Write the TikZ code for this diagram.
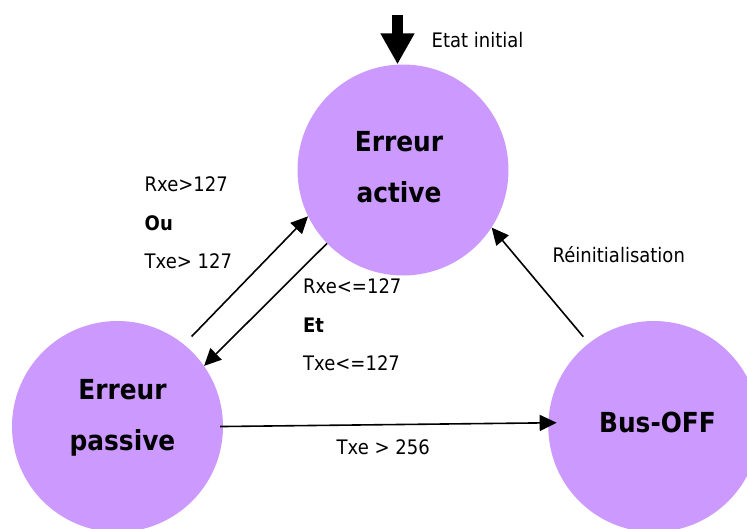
\documentclass[tikz,border=0pt]{standalone}
\usepackage{fontspec}
\usetikzlibrary{arrows.meta}
% Narrowed DejaVu Sans for all labels
\newfontfamily\diagfont[FakeStretch=0.9]{DejaVu Sans}
\definecolor{statefill}{HTML}{CC99FF}

\tikzset{
  state/.style={circle, fill=statefill, draw=none, minimum size=211pt, inner sep=0pt},
  statetext/.style={font=\diagfont\bfseries\fontsize{27.6}{51}\selectfont, align=center, anchor=base, inner sep=0pt},
  cond/.style={font=\diagfont\fontsize{20}{23}\selectfont, anchor=base west, inner sep=0pt},
  condbold/.style={cond, font=\diagfont\bfseries\fontsize{20}{23}\selectfont},
  trans/.style={line width=1.6pt, -{Triangle[length=17pt, width=16pt]}},
  initarrow/.style={line width=11pt, -{Triangle[length=31pt, width=32pt]}}
}

\begin{document}
\begin{tikzpicture}[x=1pt, y=-1pt]
  \clip (0,0) rectangle (747,528);

  % states
  \node[state] (active)  at (403,170)   {};
  \node[state] (passive) at (117.5,426.5) {};
  \node[state] (busoff)  at (653.8,426.5) {};

  % state names (anchored on the baseline of the last line)
  \node[statetext] (activetxt)  at (399,202) {Erreur\\active};
  \node[statetext] (passivetxt) at (122.5,450) {Erreur\\passive};
  \node[statetext] (busofftxt)  at (657.5,432) {Bus-OFF};

  % initial state marker
  \coordinate (init) at (397.5,15);
  \draw[initarrow] (init) -- (init |- active.north);
  \node[cond] (initlbl) at (431.5,47) {Etat initial};

  % transitions
  \draw[trans, shorten <=11pt] (passive.51.6) -- (active.206.3);
  \draw[trans] (active.224.6) -- (passive.35.1);
  \draw[trans, shorten <=8.5pt] (busoff.128.3) -- (active.-33.2);
  \draw[trans, shorten <=-3pt, shorten >=-8.5pt] (passive.0) -- (busoff.178.5);

  % transition conditions
  \node[cond]     (c1a) at (144.5,191) {Rxe>127};
  \node[condbold] (c1b) at (144.5,230) {Ou};
  \node[cond]     (c1c) at (144.5,268) {Txe> 127};

  \node[cond]     (c2a) at (303,293) {Rxe<=127};
  \node[condbold] (c2b) at (303,332) {Et};
  \node[cond]     (c2c) at (303,370) {Txe<=127};

  \node[cond] (c3) at (552.5,262.7) {Réinitialisation};
  \node[cond] (c4) at (336.5,454.3) {Txe > 256};
\end{tikzpicture}
\end{document}
